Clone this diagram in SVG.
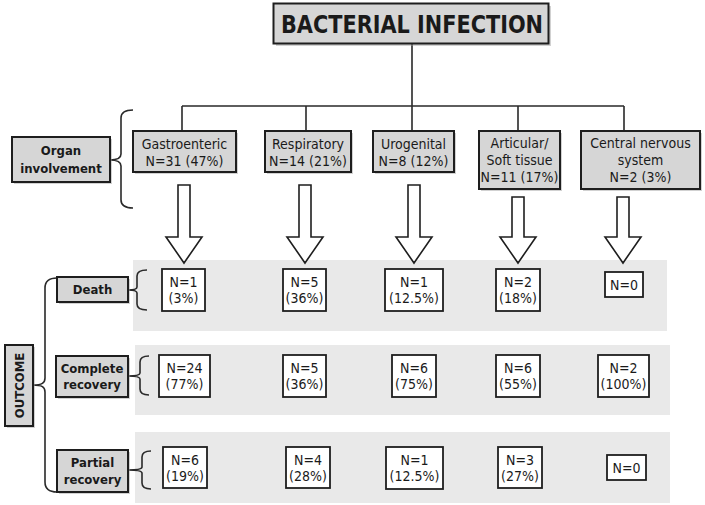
<svg xmlns="http://www.w3.org/2000/svg" width="705" height="505" viewBox="0 0 705 505">
<style>
.band{fill:#e9e9e9}
.gbox{fill:#d6d6d6;stroke:#1e1e1e;stroke-width:2}
.wbox{fill:#ffffff;stroke:#1e1e1e;stroke-width:1.8}
.shadow{fill:#9a9a9a;opacity:0.45}
.line{fill:none;stroke:#2a2a2a;stroke-width:1.6}
.arrow{fill:#ffffff;stroke:#1e1e1e;stroke-width:1.6;stroke-linejoin:miter}
text{font-family:"DejaVu Sans Condensed","DejaVu Sans",sans-serif;font-size:14px;fill:#1a1a1a;text-anchor:middle}
.b{font-weight:bold;font-size:13px}
.title{font-weight:bold;font-size:25px}
</style>
<g id="bands">
<rect class="band" x="133" y="260" width="534" height="71"/>
<rect class="band" x="135" y="345" width="535" height="70"/>
<rect class="band" x="135" y="432" width="535" height="71"/>
</g>
<g id="connectors">
<path class="line" d="M412,43 V106 M182,106 H624 M182,106 V131 M306,106 V131 M412,106 V131 M518,106 V131 M624,106 V131"/>
<path class="line" d="M133,110 C125,110 121,112 121,118 L121,154 C121,158 118,160 110,160 C118,160 121,162 121,166 L121,200 C121,206 125,208 133,208"/>
<path class="line" d="M57,278 C49,278 45,281 45,288 L45,378 C45,383 42,385 33,385 C42,385 45,387 45,392 L45,482 C45,489 49,492 57,492"/>
<path class="line" d="M147,270 Q137,270 137,276 L137,287 Q137,290 128,290 Q137,290 137,293 L137,304 Q137,310 147,310"/>
<path class="line" d="M149,356 Q140,356 140,362 L140,373 Q140,376 128,376 Q140,376 140,379 L140,389 Q140,395 149,395"/>
<path class="line" d="M151,451 Q142,451 142,457 L142,467 Q142,470 128,470 Q142,470 142,473 L142,483 Q142,489 151,489"/>
<polygon class="arrow" points="178,185 190,185 190,237 202,237 184,263 166,237 178,237"/>
<polygon class="arrow" points="299,185 311,185 311,237 323,237 305,263 287,237 299,237"/>
<polygon class="arrow" points="408,185 420,185 420,237 432,237 414,263 396,237 408,237"/>
<polygon class="arrow" points="512,197 524,197 524,237 536,237 518,263 500,237 512,237"/>
<polygon class="arrow" points="617,197 629,197 629,237 641,237 623,263 605,237 617,237"/>
</g>
<g id="title">
<rect class="shadow" x="276" y="6" width="275" height="40"/>
<rect class="gbox" x="273.5" y="3.5" width="275" height="40"/>
<text class="title" x="412" y="33" textLength="262" lengthAdjust="spacingAndGlyphs">BACTERIAL INFECTION</text>
</g>
<g id="organ-involvement">
<rect class="shadow" x="14" y="139" width="98" height="45"/>
<rect class="gbox" x="12" y="137" width="98" height="45"/>
<text class="b" x="61" y="155">Organ</text>
<text class="b" x="61" y="173">involvement</text>
</g>
<g id="gastroenteric">
<rect class="shadow" x="135" y="133" width="103" height="41"/>
<rect class="gbox" x="133" y="131" width="103" height="41"/>
<text x="184.5" y="149">Gastroenteric</text>
<text x="184.5" y="166">N=31 (47%)</text>
</g>
<g id="respiratory">
<rect class="shadow" x="267" y="133" width="86" height="41"/>
<rect class="gbox" x="265" y="131" width="86" height="41"/>
<text x="308" y="149">Respiratory</text>
<text x="308" y="166">N=14 (21%)</text>
</g>
<g id="urogenital">
<rect class="shadow" x="375" y="133" width="81" height="41"/>
<rect class="gbox" x="373" y="131" width="81" height="41"/>
<text x="413.5" y="149">Urogenital</text>
<text x="413.5" y="166">N=8 (12%)</text>
</g>
<g id="articular">
<rect class="shadow" x="481" y="133" width="81" height="58"/>
<rect class="gbox" x="479" y="131" width="81" height="58"/>
<text x="519.5" y="148">Articular/</text>
<text x="519.5" y="165">Soft tissue</text>
<text x="519.5" y="182">N=11 (17%)</text>
</g>
<g id="cns">
<rect class="shadow" x="583" y="133" width="119" height="58"/>
<rect class="gbox" x="581" y="131" width="119" height="58"/>
<text x="640.5" y="148">Central nervous</text>
<text x="640.5" y="165">system</text>
<text x="640.5" y="182">N=2 (3%)</text>
</g>
<g id="outcome">
<rect class="shadow" x="7" y="347" width="28" height="81"/>
<rect class="gbox" x="5" y="345" width="28" height="81"/>
<text class="b" x="0" y="0" font-size="14" transform="translate(24,385.5) rotate(-90)">OUTCOME</text>
</g>
<g id="death">
<rect class="shadow" x="59" y="279" width="71" height="25"/>
<rect class="gbox" x="57" y="277" width="71" height="25"/>
<text class="b" x="92.5" y="294">Death</text>
</g>
<g id="complete-recovery">
<rect class="shadow" x="58" y="358" width="72" height="41"/>
<rect class="gbox" x="56" y="356" width="72" height="41"/>
<text class="b" x="92" y="373">Complete</text>
<text class="b" x="92" y="389">recovery</text>
</g>
<g id="partial-recovery">
<rect class="shadow" x="59" y="452" width="71" height="42"/>
<rect class="gbox" x="57" y="450" width="71" height="42"/>
<text class="b" x="92.5" y="467">Partial</text>
<text class="b" x="92.5" y="484">recovery</text>
</g>
<g id="death-gastro">
<rect class="wbox" x="162" y="269" width="43" height="42"/>
<text x="183.5" y="287">N=1</text><text x="183.5" y="303">(3%)</text>
</g>
<g id="death-resp">
<rect class="wbox" x="283" y="269" width="43" height="42"/>
<text x="304.5" y="287">N=5</text><text x="304.5" y="303">(36%)</text>
</g>
<g id="death-uro">
<rect class="wbox" x="385" y="269" width="58" height="42"/>
<text x="414" y="287">N=1</text><text x="414" y="303">(12.5%)</text>
</g>
<g id="death-art">
<rect class="wbox" x="496" y="269" width="44" height="42"/>
<text x="518" y="287">N=2</text><text x="518" y="303">(18%)</text>
</g>
<g id="death-cns">
<rect class="wbox" x="605" y="272" width="38" height="25"/>
<text x="624" y="289.5">N=0</text>
</g>
<g id="complete-gastro">
<rect class="wbox" x="159" y="355" width="51" height="42"/>
<text x="184.5" y="373">N=24</text><text x="184.5" y="389">(77%)</text>
</g>
<g id="complete-resp">
<rect class="wbox" x="283" y="355" width="43" height="42"/>
<text x="304.5" y="373">N=5</text><text x="304.5" y="389">(36%)</text>
</g>
<g id="complete-uro">
<rect class="wbox" x="392" y="355" width="44" height="42"/>
<text x="414" y="373">N=6</text><text x="414" y="389">(75%)</text>
</g>
<g id="complete-art">
<rect class="wbox" x="496" y="355" width="44" height="42"/>
<text x="518" y="373">N=6</text><text x="518" y="389">(55%)</text>
</g>
<g id="complete-cns">
<rect class="wbox" x="598" y="355" width="51" height="42"/>
<text x="623.5" y="373">N=2</text><text x="623.5" y="389">(100%)</text>
</g>
<g id="partial-gastro">
<rect class="wbox" x="163" y="447" width="44" height="41"/>
<text x="185" y="465">N=6</text><text x="185" y="481">(19%)</text>
</g>
<g id="partial-resp">
<rect class="wbox" x="286" y="447" width="44" height="41"/>
<text x="308" y="465">N=4</text><text x="308" y="481">(28%)</text>
</g>
<g id="partial-uro">
<rect class="wbox" x="386" y="447" width="57" height="42"/>
<text x="414.5" y="465">N=1</text><text x="414.5" y="481">(12.5%)</text>
</g>
<g id="partial-art">
<rect class="wbox" x="498" y="447" width="44" height="41"/>
<text x="520" y="465">N=3</text><text x="520" y="481">(27%)</text>
</g>
<g id="partial-cns">
<rect class="wbox" x="607" y="455" width="39" height="25"/>
<text x="626.5" y="472.5">N=0</text>
</g>
</svg>
